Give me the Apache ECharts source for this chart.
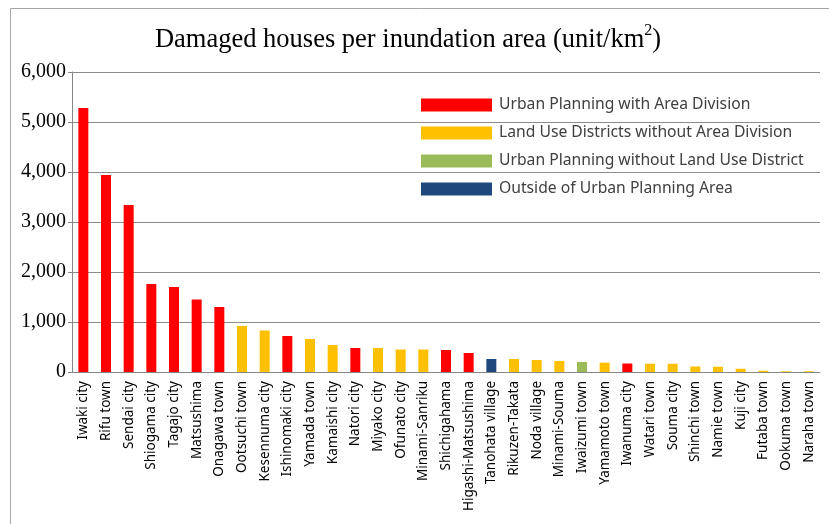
<!DOCTYPE html>
<html>
<head>
  <meta charset="utf-8">
  <title>Damaged houses per inundation area</title>
  <script src="https://cdn.jsdelivr.net/npm/echarts@6/dist/echarts.min.js"></script>
</head>
<body style="margin:0">
  <div id="main" style="width:829px;height:524px;"></div>
  <script type="text/javascript">
    // categories and values
    var towns = ['Iwaki city', 'Rifu town', 'Sendai city', 'Shiogama city', 'Tagajo city', 'Matsushima',
      'Onagawa town', 'Ootsuchi town', 'Kesennuma city', 'Ishinomaki city', 'Yamada town', 'Kamaishi city',
      'Natori city', 'Miyako city', 'Ofunato city', 'Minami-Sanriku', 'Shichigahama', 'Higashi-Matsushima',
      'Tanohata village', 'Rikuzen-Takata', 'Noda village', 'Minami-Souma', 'Iwaizumi town', 'Yamamoto town',
      'Iwanuma city', 'Watari town', 'Souma city', 'Shinchi town', 'Namie town', 'Kuji city',
      'Futaba town', 'Ookuma town', 'Naraha town'];
    var damaged = [5280, 3940, 3340, 1760, 1700, 1450, 1300, 920, 830, 720, 660, 540,
      480, 480, 450, 450, 440, 380, 260, 260, 240, 220, 200, 187,
      170, 165, 165, 110, 105, 65, 25, 15, 15];
    // 0 = area division, 1 = land use w/o division, 2 = no land use district, 3 = outside
    var group = [0, 0, 0, 0, 0, 0, 0, 1, 1, 0, 1, 1,
      0, 1, 1, 1, 0, 0, 3, 1, 1, 1, 2, 1,
      0, 1, 1, 1, 1, 1, 1, 1, 1];
    var groupNames = ['Urban Planning with Area Division', 'Land Use Districts without Area Division',
      'Urban Planning without Land Use District', 'Outside of Urban Planning Area'];
    var groupColors = ['#ff0000', '#ffc000', '#9bbb59', '#1f497d'];

    var myChart = echarts.init(document.getElementById('main'), null, { renderer: 'canvas' });

    var series = groupNames.map(function (name, g) {
      return {
        name: name,
        type: 'bar',
        stack: 'all',
        barWidth: 10,
        itemStyle: { color: groupColors[g] },
        data: damaged.map(function (v, i) { return group[i] === g ? v : '-'; })
      };
    });

    var option = {
      animation: false,
      title: {
        text: '{a|Damaged houses per inundation area (unit/km}{s|2}{a|)}',
        left: 403,
        textAlign: 'center',
        top: 18,
        textStyle: {
          rich: {
            a: { fontFamily: 'Liberation Serif', fontWeight: 'normal', fontSize: 26.5, color: '#000', lineHeight: 31, verticalAlign: 'bottom' },
            s: { fontFamily: 'Liberation Serif', fontWeight: 'normal', fontSize: 16, color: '#000', lineHeight: 31, verticalAlign: 'top' }
          }
        }
      },
      graphic: [{
        type: 'rect',
        silent: true,
        shape: { x: 10.5, y: 8.5, width: 900, height: 600 },
        style: { fill: 'none', stroke: '#a6a6a6', lineWidth: 1 }
      }],
      legend: {
        orient: 'vertical',
        left: 416,
        top: 92,
        itemWidth: 71,
        itemHeight: 13,
        itemGap: 12,
        icon: 'rect',
        textStyle: { fontFamily: 'Noto Sans', fontSize: 15.7, color: '#404040', padding: [0, 0, 0, 2] },
        data: groupNames
      },
      grid: { left: 72, right: 9, top: 72, bottom: 152, containLabel: false },
      xAxis: {
        type: 'category',
        data: towns,
        axisLine: { lineStyle: { color: '#868686', width: 1 } },
        axisTick: { length: 5, lineStyle: { color: '#868686' } },
        axisLabel: { rotate: 90, interval: 0, margin: 9, fontFamily: 'Noto Sans', fontSize: 13.5, color: '#000' }
      },
      yAxis: {
        type: 'value',
        min: 0,
        max: 6000,
        interval: 1000,
        axisLine: { show: true, lineStyle: { color: '#868686' } },
        axisTick: { show: true, length: 4, lineStyle: { color: '#868686' } },
        splitLine: { lineStyle: { color: '#8c8c8c', width: 1 } },
        axisLabel: {
          margin: 6,
          fontFamily: 'Liberation Serif',
          fontSize: 20,
          color: '#000',
          formatter: function (v) { return v.toLocaleString('en-US'); }
        }
      },
      series: series
    };

    myChart.setOption(option);
  </script>
</body>
</html>
